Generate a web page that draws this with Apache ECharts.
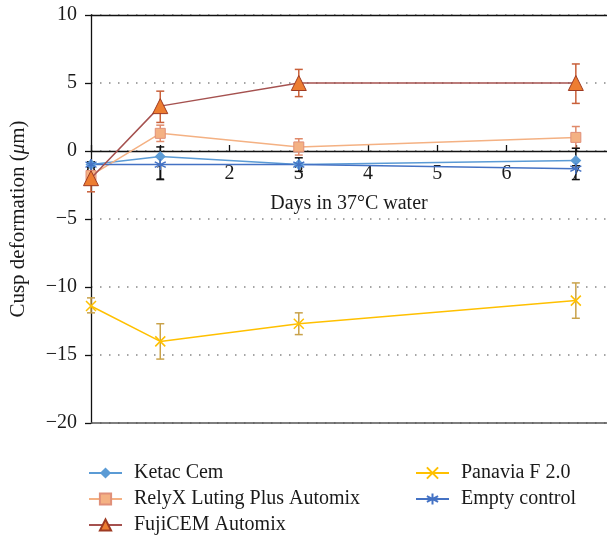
<!DOCTYPE html>
<html>
<head>
<meta charset="utf-8">
<script src="https://cdn.jsdelivr.net/npm/echarts@6/dist/echarts.min.js"></script>
<style>html,body{margin:0;padding:0;background:#fff}#c{width:607px;height:535px}</style>
</head>
<body>
<div id="c"></div>
<script>
// ---- data ----
const days = [0, 1, 3, 7];
const seriesNames = ['Ketac Cem', 'RelyX Luting Plus Automix', 'FujiCEM Automix', 'Panavia F 2.0', 'Empty control'];
const ketac = [-1.0, -0.4, -1.0, -0.7];
const relyx = [-1.8, 1.3, 0.3, 1.0];
const fuji = [-2.0, 3.3, 5.0, 5.0];
const panavia = [-11.4, -14.0, -12.7, -11.0];
const empty = [-1.0, -1.0, -1.0, -1.3];
// error bar ends (low, high)
const relyxLow = [-2.2, 0.7, -0.3, 0.2];
const relyxHigh = [-1.5, 1.9, 0.9, 1.8];
const fujiLow = [-3.0, 2.1, 4.0, 3.5];
const fujiHigh = [-1.2, 4.4, 6.0, 6.4];
const panaviaLow = [-11.9, -15.3, -13.5, -12.3];
const panaviaHigh = [-10.8, -12.7, -11.9, -9.7];
const emptyLow = [-1.2, -2.1, -1.5, -2.1];
const emptyHigh = [-0.8, 0.3, -0.5, 0.2];
const yTicks = [-20, -15, -10, -5, 0, 5, 10];
const xTicks = [0, 1, 2, 3, 4, 5, 6, 7];

const FONT = 'Liberation Serif';
const yMin = yTicks[0], yMax = yTicks[yTicks.length - 1];
const GRID = { left: 88, top: 15, bottom: 112, right: 0 };
const gridH = 535 - GRID.top - GRID.bottom;
const zeroOffset = -gridH * (0 - yMin) / (yMax - yMin);

const pts = arr => days.map((d, i) => [d, arr[i]]);
const errPts = (lo, hi) => days.map((d, i) => [d, lo[i], hi[i]]);

function errSeries(name, lo, hi, color) {
  return {
    name: name, type: 'custom', xAxisIndex: 1, z: 2,
    data: errPts(lo, hi),
    renderItem: function (params, api) {
      const x = api.value(0);
      const a = api.coord([x, api.value(1)]);
      const b = api.coord([x, api.value(2)]);
      const w = 4;
      const st = { stroke: color, lineWidth: 1.5 };
      return { type: 'group', children: [
        { type: 'line', shape: { x1: a[0], y1: a[1], x2: b[0], y2: b[1] }, style: st },
        { type: 'line', shape: { x1: a[0] - w, y1: a[1], x2: a[0] + w, y2: a[1] }, style: st },
        { type: 'line', shape: { x1: b[0] - w, y1: b[1], x2: b[0] + w, y2: b[1] }, style: st }
      ]};
    }
  };
}

const xPath = 'path://M0,0L10,10M10,0L0,10';
const starPath = 'path://M5,0L5,10M0.7,2.5L9.3,7.5M9.3,2.5L0.7,7.5';

const legendCommon = { orient: 'vertical', top: 463, padding: 0, itemWidth: 33, itemHeight: 14, itemGap: 6,
  textStyle: { fontFamily: FONT, fontSize: 20, color: '#1a1a1a', padding: [0, 0, 0, 7] } };

const chart = echarts.init(document.getElementById('c'));
chart.setOption({
  animation: false,
  textStyle: { fontFamily: FONT },
  grid: Object.assign({ show: false }, GRID),
  xAxis: [
    { type: 'value', position: 'top', min: 0, max: 7.45, interval: 1,
      axisLine: { onZero: false, lineStyle: { color: '#111', width: 1.3 } },
      axisTick: { show: false }, axisLabel: { show: false }, splitLine: { show: false } },
    { type: 'value', position: 'bottom', offset: zeroOffset, min: xTicks[0], max: 7.45, interval: 1,
      name: 'Days in 37°C water', nameLocation: 'middle', nameGap: 43,
      nameTextStyle: { fontFamily: FONT, fontSize: 20, color: '#1a1a1a' },
      axisLine: { onZero: false, lineStyle: { color: '#111', width: 1.3 } },
      axisTick: { inside: true, length: 6, lineStyle: { color: '#111', width: 1.3 } },
      axisLabel: { fontFamily: FONT, fontSize: 20, color: '#1a1a1a', margin: 13,
        showMaxLabel: false,
        formatter: v => (xTicks.indexOf(v) >= 0 ? String(v) : '') },
      splitLine: { show: false } }
  ],
  yAxis: {
    type: 'value', min: yMin, max: yMax, interval: 5,
    name: 'Cusp deformation ({i|μ}m)', nameLocation: 'middle', nameGap: 62,
    nameTextStyle: { fontFamily: FONT, fontSize: 21, color: '#1a1a1a', rich: { i: { fontFamily: FONT, fontSize: 21, fontStyle: 'italic', color: '#1a1a1a' } } },
    axisLine: { show: true, onZero: false, lineStyle: { color: '#111', width: 1.3 } },
    axisTick: { show: true, inside: false, length: 6, lineStyle: { color: '#111', width: 1.3 } },
    axisLabel: { fontFamily: FONT, fontSize: 20, color: '#1a1a1a', margin: 14,
      formatter: v => (v < 0 ? '\u2212' + Math.abs(v) : String(v)) },
    splitLine: { show: true, lineStyle: { color: '#888', type: [1.5, 7.5], width: 1.5 } }
  },
  legend: [
    Object.assign({ data: seriesNames.slice(0, 3), left: 88 }, legendCommon),
    Object.assign({ data: seriesNames.slice(3), left: 415 }, legendCommon)
  ],
  series: [
    errSeries('err-relyx', relyxLow, relyxHigh, '#E08A6A'),
    errSeries('err-fuji', fujiLow, fujiHigh, '#C9603A'),
    errSeries('err-panavia', panaviaLow, panaviaHigh, '#C9A24A'),
    errSeries('err-empty', emptyLow, emptyHigh, '#111'),
    { name: seriesNames[0], type: 'line', xAxisIndex: 1, data: pts(ketac), z: 4,
      symbol: 'diamond', symbolSize: 11,
      lineStyle: { color: '#5B9BD5', width: 1.5 }, itemStyle: { color: '#5B9BD5' },
      markLine: { silent: true, symbol: 'none', label: { show: false },
        lineStyle: { color: '#555', type: 'solid', width: 1.5 }, data: [{ yAxis: yMin }] } },
    { name: seriesNames[1], type: 'line', xAxisIndex: 1, data: pts(relyx), z: 4,
      symbol: 'rect', symbolSize: 10,
      lineStyle: { color: '#F4B183', width: 1.5 }, itemStyle: { color: '#F4B183', borderColor: '#E0907A', borderWidth: 1 } },
    { name: seriesNames[2], type: 'line', xAxisIndex: 1, data: pts(fuji), z: 5,
      symbol: 'triangle', symbolSize: 15,
      lineStyle: { color: '#A5514F', width: 1.5 }, itemStyle: { color: '#ED7D31', borderColor: '#9E3A22', borderWidth: 1 } },
    { name: seriesNames[3], type: 'line', xAxisIndex: 1, data: pts(panavia), z: 4,
      symbol: xPath, symbolSize: 10,
      lineStyle: { color: '#FFC000', width: 1.5 }, itemStyle: { color: 'rgba(0,0,0,0)', borderColor: '#FFC000', borderWidth: 1.5 } },
    { name: seriesNames[4], type: 'line', xAxisIndex: 1, data: pts(empty), z: 4,
      symbol: starPath, symbolSize: 11,
      lineStyle: { color: '#4472C4', width: 1.5 }, itemStyle: { color: 'rgba(0,0,0,0)', borderColor: '#4472C4', borderWidth: 1.5 } }
  ]
});
</script>
</body>
</html>
